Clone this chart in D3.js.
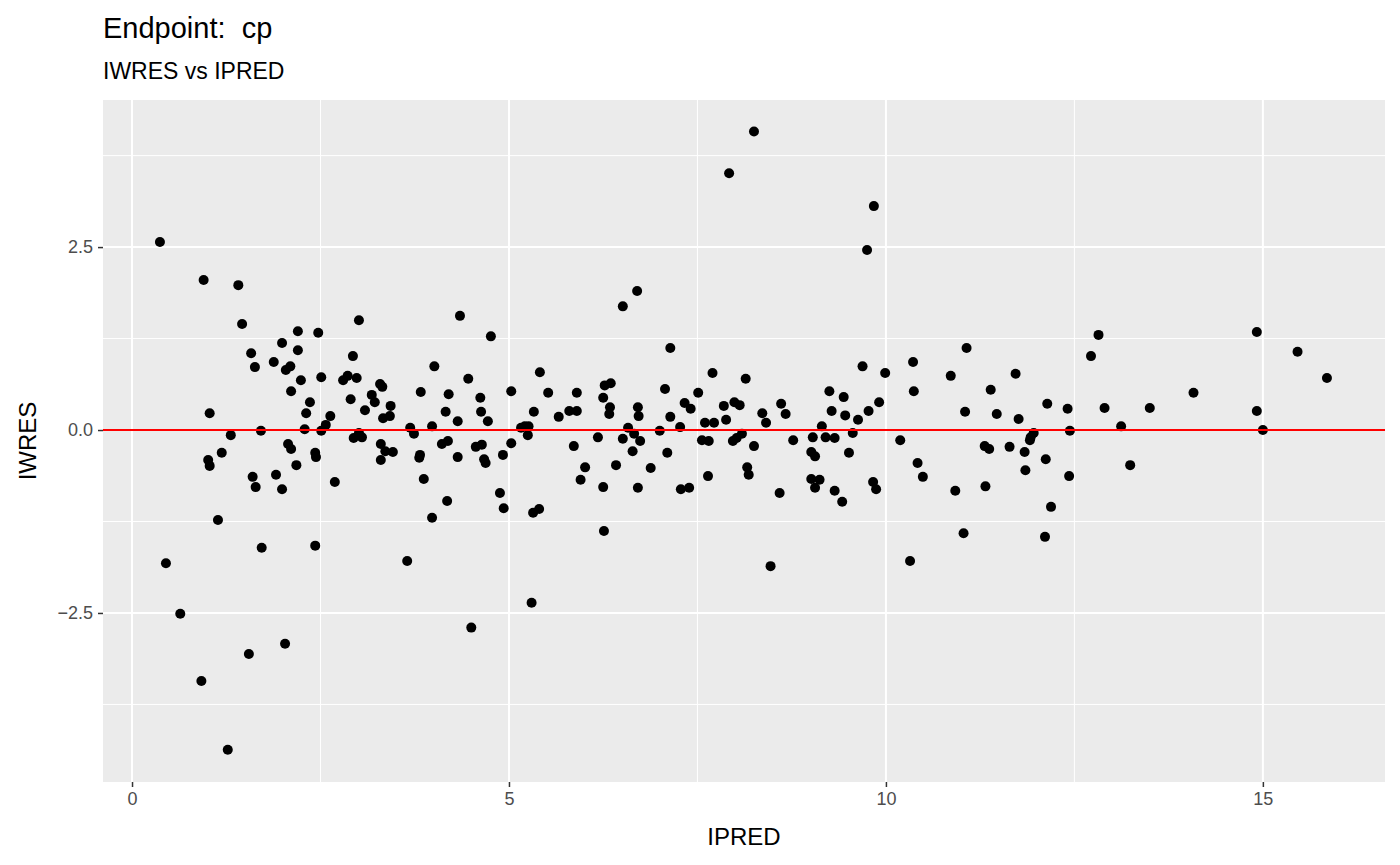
<!DOCTYPE html><html><head><meta charset="utf-8"><script src="https://cdn.jsdelivr.net/npm/d3@7"></script>
<style>body{margin:0;background:#fff}text{font-family:"Liberation Sans",Arial,sans-serif;white-space:pre}</style></head><body>
<svg id="c" width="1400" height="865"></svg>
<script>
const ipred=[0.37,0.45,0.64,0.92,0.95,1.01,1.03,1.03,1.14,1.19,1.27,1.31,1.41,1.46,1.55,1.58,1.60,1.63,1.64,1.71,1.72,1.91,1.88,1.99,1.99,2.03,2.04,2.07,2.10,2.11,2.11,2.18,2.20,2.20,2.24,2.29,2.31,2.36,2.43,2.43,2.44,2.47,2.51,2.51,2.57,2.63,2.69,2.80,2.86,2.90,2.93,2.94,2.98,3.01,3.01,3.05,3.09,3.18,3.22,3.29,3.30,3.32,3.30,3.33,3.36,3.42,3.43,3.46,3.65,3.69,3.74,3.81,3.82,3.83,3.87,3.98,3.98,4.01,4.11,4.16,4.18,4.19,4.20,4.32,4.32,4.35,4.46,4.50,4.56,4.62,4.63,4.64,4.67,4.69,4.72,4.76,4.88,4.92,4.93,5.03,5.03,5.16,5.21,5.25,5.26,5.30,5.32,5.33,5.40,5.41,5.52,5.66,5.80,5.86,5.90,5.90,5.95,6.01,6.18,6.25,6.25,6.26,6.27,6.33,6.34,6.35,6.42,6.51,6.51,6.58,6.64,6.66,6.70,6.71,6.71,6.72,6.74,6.88,7.00,7.07,7.10,7.14,7.14,7.27,7.28,7.33,7.39,7.41,7.51,7.56,7.60,7.64,7.65,7.70,7.72,7.85,7.88,7.92,7.97,7.99,8.02,8.06,8.09,8.14,8.16,8.18,8.25,8.25,8.36,8.41,8.47,8.59,8.61,8.67,8.77,9.01,9.01,9.03,9.06,9.06,9.12,9.15,9.20,9.25,9.28,9.32,9.32,9.42,9.44,9.46,9.51,9.56,9.63,9.69,9.75,9.77,9.83,9.84,9.87,9.91,9.99,10.19,10.32,10.36,10.37,10.42,10.49,10.86,10.92,11.03,11.05,11.07,11.31,11.37,11.32,11.39,11.47,11.64,11.72,11.76,11.84,11.85,11.91,11.92,11.96,12.11,12.12,12.14,12.19,12.41,12.43,12.44,12.72,12.82,12.90,13.12,13.24,13.50,14.08,14.92,14.92,15.00,15.46,15.85];
const iwres=[2.57,-1.82,-2.51,-3.43,2.05,-0.41,-0.49,0.23,-1.23,-0.31,-4.37,-0.07,1.98,1.45,-3.06,1.05,-0.64,0.86,-0.78,-0.01,-1.61,-0.61,0.93,1.19,-0.81,-2.92,0.82,-0.19,0.87,-0.26,0.53,-0.48,1.09,1.35,0.68,0.01,0.23,0.38,-1.58,-0.31,-0.37,1.33,0.72,-0.01,0.07,0.19,-0.71,0.68,0.74,0.42,1.01,-0.11,0.71,1.50,-0.04,-0.10,0.27,0.48,0.38,0.63,-0.19,0.59,-0.41,0.16,-0.29,0.19,0.33,-0.30,-1.79,0.03,-0.05,-0.38,-0.34,0.52,-0.67,-1.20,0.05,0.87,-0.19,0.25,-0.97,-0.15,0.49,-0.37,0.12,1.56,0.70,-2.70,-0.23,0.44,0.25,-0.20,-0.40,-0.45,0.12,1.28,-0.86,-0.34,-1.07,0.53,-0.18,0.03,0.05,-0.07,0.05,-2.36,-1.13,0.25,-1.08,0.79,0.51,0.18,0.26,-0.22,0.26,0.51,-0.68,-0.51,-0.10,0.44,-0.78,-1.38,0.61,0.22,0.31,0.64,-0.48,1.69,-0.12,0.03,-0.29,-0.05,1.90,-0.79,0.31,0.19,-0.15,-0.52,-0.01,0.56,-0.31,1.12,0.18,0.04,-0.81,0.37,-0.79,0.29,0.51,-0.14,0.10,-0.63,-0.15,0.78,0.10,0.33,0.14,3.51,-0.15,0.38,-0.11,0.34,-0.05,0.70,-0.51,-0.61,4.08,-0.22,0.23,0.10,-1.86,-0.86,0.36,0.22,-0.14,-0.30,-0.67,-0.10,-0.36,-0.79,-0.68,0.05,-0.10,0.53,0.26,-0.11,-0.83,-0.98,0.45,0.20,-0.31,-0.04,0.14,0.87,2.46,0.26,-0.71,3.06,-0.81,0.38,0.78,-0.14,-1.79,0.93,0.53,-0.45,-0.64,0.74,-0.83,-1.41,0.25,1.12,-0.22,-0.26,-0.77,0.55,0.22,-0.23,0.77,0.15,-0.30,-0.55,-0.14,-0.10,-0.04,-1.46,-0.40,0.36,-1.05,0.29,-0.63,-0.01,1.01,1.30,0.30,0.05,-0.48,0.30,0.51,1.34,0.26,0.00,1.07,0.71];
const xTicks=[0,5,10,15], yTicks=[-2.5,0,2.5];
const xMinor=[2.5,7.5,12.5], yMinor=[-3.75,-1.25,1.25,3.75];
const title="Endpoint:  cp", subtitle="IWRES vs IPRED", xLabel="IPRED", yLabel="IWRES";

const svg=d3.select("#c");
const L=103,T=100,W=1282,H=682;
const x=d3.scaleLinear().domain([-0.385,16.62]).range([L,L+W]);
const y=d3.scaleLinear().domain([-4.81,4.51]).range([T+H,T]);
svg.append("rect").attr("x",L).attr("y",T).attr("width",W).attr("height",H).attr("fill","#ebebeb");
const g=svg.append("g");
xMinor.forEach(v=>g.append("line").attr("x1",x(v)).attr("x2",x(v)).attr("y1",T).attr("y2",T+H).attr("stroke","#fff").attr("stroke-width",1));
yMinor.forEach(v=>g.append("line").attr("y1",y(v)).attr("y2",y(v)).attr("x1",L).attr("x2",L+W).attr("stroke","#fff").attr("stroke-width",1));
xTicks.forEach(v=>g.append("line").attr("x1",x(v)).attr("x2",x(v)).attr("y1",T).attr("y2",T+H).attr("stroke","#fff").attr("stroke-width",2));
yTicks.forEach(v=>g.append("line").attr("y1",y(v)).attr("y2",y(v)).attr("x1",L).attr("x2",L+W).attr("stroke","#fff").attr("stroke-width",2));
const xa=svg.append("g").attr("transform",`translate(0,${T+H})`).call(d3.axisBottom(x).tickValues(xTicks).tickSize(5).tickPadding(5).tickFormat(d3.format("d")));
const ya=svg.append("g").attr("transform",`translate(${L},0)`).call(d3.axisLeft(y).tickValues(yTicks).tickSize(5).tickPadding(5).tickFormat(d3.format(".1f")));
[xa,ya].forEach(a=>{a.select(".domain").remove();a.selectAll("line").attr("stroke","#333").attr("stroke-width",1.5);a.selectAll("text").attr("fill","#4d4d4d").style("font-size","18px").style("font-family","Liberation Sans, Arial");});
svg.append("g").selectAll("circle").data(ipred).join("circle").attr("cx",d=>x(d)).attr("cy",(d,i)=>y(iwres[i])).attr("r",5).attr("fill","#000");
svg.append("line").attr("x1",L).attr("x2",L+W).attr("y1",y(0)).attr("y2",y(0)).attr("stroke","#ff0000").attr("stroke-width",2);
svg.append("text").attr("x",103).attr("y",38).text(title).style("font-size","29px");
svg.append("text").attr("x",103).attr("y",79).text(subtitle).style("font-size","23px");
svg.append("text").attr("x",L+W/2).attr("y",845).attr("text-anchor","middle").text(xLabel).style("font-size","24px");
svg.append("text").attr("transform",`translate(36,${T+H/2}) rotate(-90)`).attr("text-anchor","middle").text(yLabel).style("font-size","24px");
</script></body></html>
